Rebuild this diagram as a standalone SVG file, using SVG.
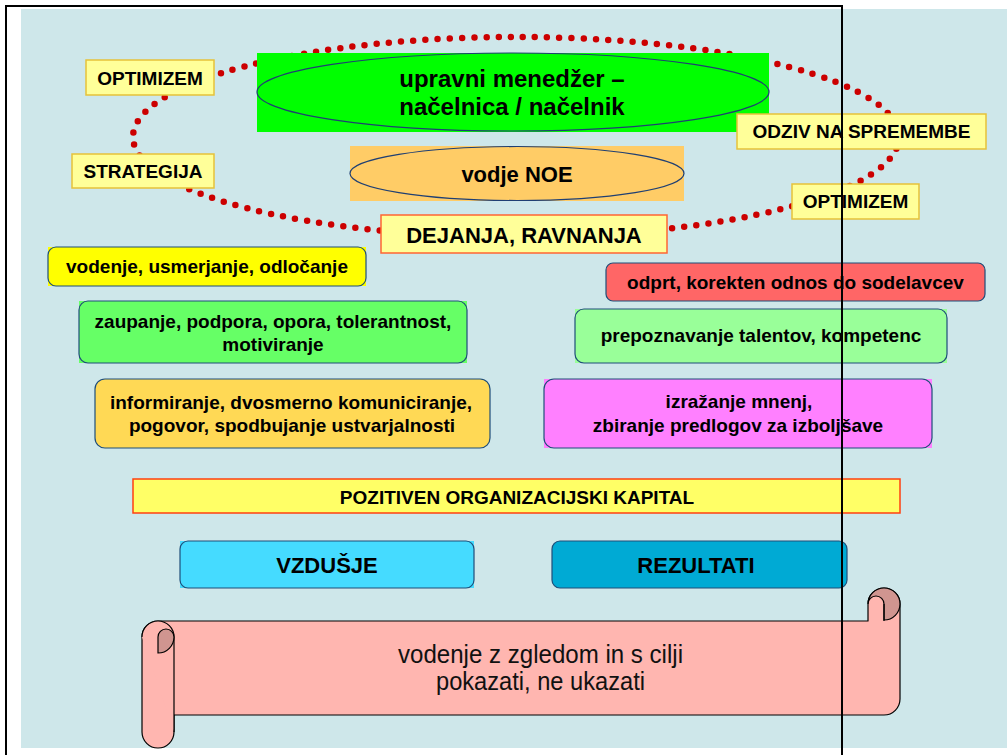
<svg xmlns="http://www.w3.org/2000/svg" width="1007" height="755" viewBox="0 0 1007 755">
<style>
text{font-family:"Liberation Sans",Arial,sans-serif;fill:#000;text-anchor:middle}
.b{font-weight:bold;font-size:19px}
.b22{font-weight:bold;font-size:22px}
.lab{fill:#FFFF99;stroke:#E6C23A;stroke-width:1.5}
.box{stroke:#1F4E79;stroke-width:1.2}
.sq{stroke:none}
.ell{stroke:#1F3F73;stroke-width:1.2}
.scr{fill:#FFB6B0;stroke:#000;stroke-width:1.2;stroke-linejoin:round}
.dk{fill:#D09590;stroke:#000;stroke-width:1.2}
</style>
<rect x="0" y="0" width="1007" height="755" fill="#fff"/>
<rect x="21" y="9" width="986" height="739" fill="#CEE7EA"/>

<g id="ring">
<ellipse cx="516" cy="137" rx="383" ry="100" fill="none" stroke="#CC0000" stroke-width="6.5" stroke-linecap="round" stroke-dasharray="0 12.2"/>
</g>

<g id="manager">
<rect x="257" y="53" width="512" height="79" fill="#00FF00"/>
<ellipse cx="513" cy="92" rx="256" ry="39" fill="#00FF00" class="ell"/>
<text x="512" y="87" style="font-weight:bold;font-size:24px">upravni menedžer –</text>
<text x="512" y="115" style="font-weight:bold;font-size:24px">načelnica / načelnik</text>
</g>

<g id="noe">
<rect x="350" y="146" width="334" height="55" fill="#FFCC66"/>
<ellipse cx="517" cy="173.5" rx="167" ry="27" fill="#FFCC66" class="ell"/>
<text x="517" y="182" class="b22">vodje NOE</text>
</g>

<g id="dejanja">
<rect x="381" y="215" width="286" height="38" fill="#FFFF99" stroke="#FF6633" stroke-width="1.5"/>
<text x="524" y="243" class="b22">DEJANJA, RAVNANJA</text>
</g>

<g id="optimizem1">
<rect x="86" y="60" width="128" height="35" class="lab"/>
<text x="150" y="85" class="b">OPTIMIZEM</text>
</g>
<g id="strategija">
<rect x="72" y="154" width="142" height="34" class="lab"/>
<text x="143" y="178" class="b">STRATEGIJA</text>
</g>
<g id="odziv">
<rect x="737" y="114" width="249" height="35" class="lab"/>
<text x="861.5" y="138" class="b">ODZIV NA SPREMEMBE</text>
</g>
<g id="optimizem2">
<rect x="792" y="184" width="127" height="35" class="lab"/>
<text x="855.5" y="208" class="b">OPTIMIZEM</text>
</g>

<g id="vodenje">
<rect x="48" y="247" width="318" height="39" fill="#FFFF00" class="sq"/>
<rect x="48" y="247" width="318" height="39" rx="8" fill="#FFFF00" class="box"/>
<text x="207" y="273" class="b">vodenje, usmerjanje, odločanje</text>
</g>
<g id="zaupanje">
<rect x="79" y="301" width="388" height="62" fill="#66FF66" class="sq"/>
<rect x="79" y="301" width="388" height="62" rx="9" fill="#66FF66" class="box"/>
<text x="273" y="328" class="b">zaupanje, podpora, opora, tolerantnost,</text>
<text x="273" y="351" class="b">motiviranje</text>
</g>
<g id="informiranje">
<rect x="95" y="379" width="395" height="69" rx="10" fill="#FFD955" class="box"/>
<text x="291" y="409" class="b">informiranje, dvosmerno komuniciranje,</text>
<text x="292" y="432" class="b">pogovor, spodbujanje ustvarjalnosti</text>
</g>
<g id="odprt">
<rect x="606" y="263" width="379" height="38" rx="7" fill="#FF6666" class="box"/>
<text x="795.5" y="289" class="b">odprt, korekten odnos do sodelavcev</text>
</g>
<g id="prepoznavanje">
<rect x="575" y="309" width="372" height="54" fill="#99FF99" class="sq"/>
<rect x="575" y="309" width="372" height="54" rx="9" fill="#99FF99" class="box"/>
<text x="761" y="342" class="b">prepoznavanje talentov, kompetenc</text>
</g>
<g id="izrazanje">
<rect x="544" y="379" width="388" height="69" fill="#FF80FF" class="sq"/>
<rect x="544" y="379" width="388" height="69" rx="10" fill="#FF80FF" class="box"/>
<text x="739" y="408" class="b">izražanje mnenj,</text>
<text x="738" y="432" class="b">zbiranje predlogov za izboljšave</text>
</g>

<g id="kapital">
<rect x="133" y="479" width="767" height="34" fill="#FFFF66" stroke="#FF4010" stroke-width="1.5"/>
<text x="517" y="504" class="b">POZITIVEN ORGANIZACIJSKI KAPITAL</text>
</g>
<g id="vzdusje">
<rect x="180" y="541" width="294" height="47" fill="#45DBFF" class="sq"/>
<rect x="180" y="541" width="294" height="47" rx="8" fill="#45DBFF" class="box"/>
<text x="327" y="573" class="b22">VZDUŠJE</text>
</g>
<g id="rezultati">
<rect x="552" y="541" width="295" height="47" rx="8" fill="#00AAD4" class="box"/>
<text x="696" y="573" class="b22">REZULTATI</text>
</g>

<g id="scroll">
<path class="scr" d="M142 637 A16 16 0 0 1 158 621 H868 V604 A16 16 0 0 1 900 604 V699 A16 16 0 0 1 884 715 H174 V732 A16 16 0 0 1 142 732 Z"/>
<path class="scr" d="M142 637 A16 16 0 0 1 174 637 V732"/>
<path class="dk" d="M158 653 V637 A8 8 0 0 1 174 637 A16 16 0 0 1 158 653 Z"/>
<path class="dk" d="M868 604 A16 16 0 0 1 900 604 A16 16 0 0 1 884 620 V604 A8 8 0 0 0 868 604 Z"/>
<path d="M884 604 V621" fill="none" stroke="#000" stroke-width="1.2"/>
<text x="398" y="663" textLength="285" lengthAdjust="spacingAndGlyphs" style="text-anchor:start;font-size:26px;fill:#111">vodenje z zgledom in s cilji</text>
<text x="436" y="690" textLength="209" lengthAdjust="spacingAndGlyphs" style="text-anchor:start;font-size:26px;fill:#111">pokazati, ne ukazati</text>
</g>

<rect x="6" y="6" width="836" height="800" fill="none" stroke="#000" stroke-width="2"/>
</svg>
